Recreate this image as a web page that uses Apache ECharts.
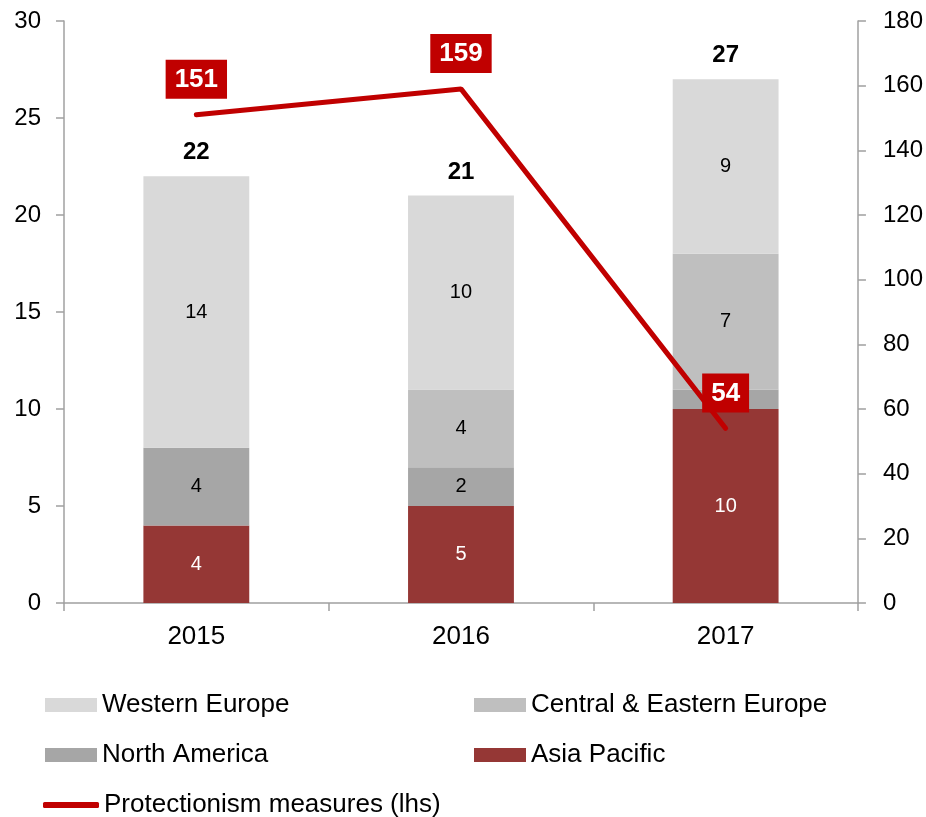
<!DOCTYPE html>
<html><head><meta charset="utf-8">
<script src="https://cdn.jsdelivr.net/npm/echarts@6/dist/echarts.min.js"></script>
<style>html,body{margin:0;padding:0;background:#fff}#c{width:926px;height:817px}</style>
</head><body><div id="c"></div>
<script>
const categories = ['2015', '2016', '2017'];
const asiaPacific = [4, 5, 10];
const northAmerica = [4, 2, 1];
const centralEastEurope = [0, 4, 7];
const westernEurope = [14, 10, 9];
const totals = [22, 21, 27];
const protectionism = [151, 159, 54];
const leftTicks = [0, 30, 5];
const rightTicks = [0, 180, 20];

const FONT = 'Arial, "Liberation Sans", sans-serif';
const chart = echarts.init(document.getElementById('c'), null, {renderer: 'canvas'});

function segLabel(color) {
  return {
    show: true, position: 'inside', color: color, fontSize: 20, fontFamily: FONT,
    formatter: p => (p.value > 1 ? String(p.value) : '')
  };
}
function barSeries(name, data, color, labelColor) {
  return {
    name, type: 'bar', stack: 'total', data, barWidth: '40%',
    itemStyle: {color}, label: segLabel(labelColor), emphasis: {disabled: true}
  };
}
function legendItem(name, left, top, icon, w, h) {
  return {
    data: [name], left, top, icon: icon, itemWidth: w, itemHeight: h, itemGap: 0, padding: 0,
    textStyle: {fontSize: 26, fontFamily: FONT, color: '#000', padding: [0, 0, 0, 0]},
    selectedMode: false
  };
}

chart.setOption({
  animation: false,
  grid: {left: 64, right: 68, top: 21, bottom: 214},
  legend: [
    legendItem('Western Europe', 45, 692, 'rect', 52, 14),
    legendItem('Central & Eastern Europe', 474, 692, 'rect', 52, 14),
    legendItem('North America', 45, 742, 'rect', 52, 14),
    legendItem('Asia Pacific', 474, 742, 'rect', 52, 14),
    legendItem('Protectionism measures (lhs)', 43, 792, 'roundRect', 56, 6)
  ],
  xAxis: {
    type: 'category', data: categories,
    axisLine: {lineStyle: {color: '#a0a0a0', width: 1.5}},
    axisTick: {show: true, length: 8, lineStyle: {color: '#a0a0a0', width: 1.5}},
    axisLabel: {fontSize: 26, fontFamily: FONT, color: '#000', margin: 21}
  },
  yAxis: [
    {
      type: 'value', min: leftTicks[0], max: leftTicks[1], interval: leftTicks[2],
      axisLine: {show: true, lineStyle: {color: '#a0a0a0', width: 1.5}},
      axisTick: {show: true, length: 8, lineStyle: {color: '#a0a0a0', width: 1.5}},
      splitLine: {show: false},
      axisLabel: {fontSize: 24, fontFamily: FONT, color: '#000', margin: 23}
    },
    {
      type: 'value', min: rightTicks[0], max: rightTicks[1], interval: rightTicks[2],
      position: 'right',
      axisLine: {show: true, lineStyle: {color: '#a0a0a0', width: 1.5}},
      axisTick: {show: true, length: 8, lineStyle: {color: '#a0a0a0', width: 1.5}},
      splitLine: {show: false},
      axisLabel: {fontSize: 24, fontFamily: FONT, color: '#000', margin: 25}
    }
  ],
  series: [
    barSeries('Asia Pacific', asiaPacific, '#953735', '#fff'),
    barSeries('North America', northAmerica, '#a6a6a6', '#000'),
    barSeries('Central & Eastern Europe', centralEastEurope, '#bfbfbf', '#000'),
    barSeries('Western Europe', westernEurope, '#d9d9d9', '#000'),
    {
      name: 'Totals', type: 'line', data: totals, symbol: 'circle', symbolSize: 1,
      itemStyle: {color: 'transparent'},
      lineStyle: {opacity: 0}, silent: true, z: 5,
      label: {show: true, position: 'top', distance: 11, fontSize: 24, fontWeight: 'bold', fontFamily: FONT, color: '#000'}
    },
    {
      name: 'Protectionism measures (lhs)', type: 'line', yAxisIndex: 1, data: protectionism,
      symbol: 'circle', symbolSize: 2, z: 10,
      lineStyle: {color: '#c00000', width: 5, cap: 'round'},
      itemStyle: {color: '#c00000'},
      label: {
        show: true, position: 'top', distance: 15, fontSize: 26, fontWeight: 'bold', fontFamily: FONT,
        color: '#fff', backgroundColor: '#c00000', padding: [7, 9, 6, 9]
      }
    }
  ]
});
</script></body></html>
